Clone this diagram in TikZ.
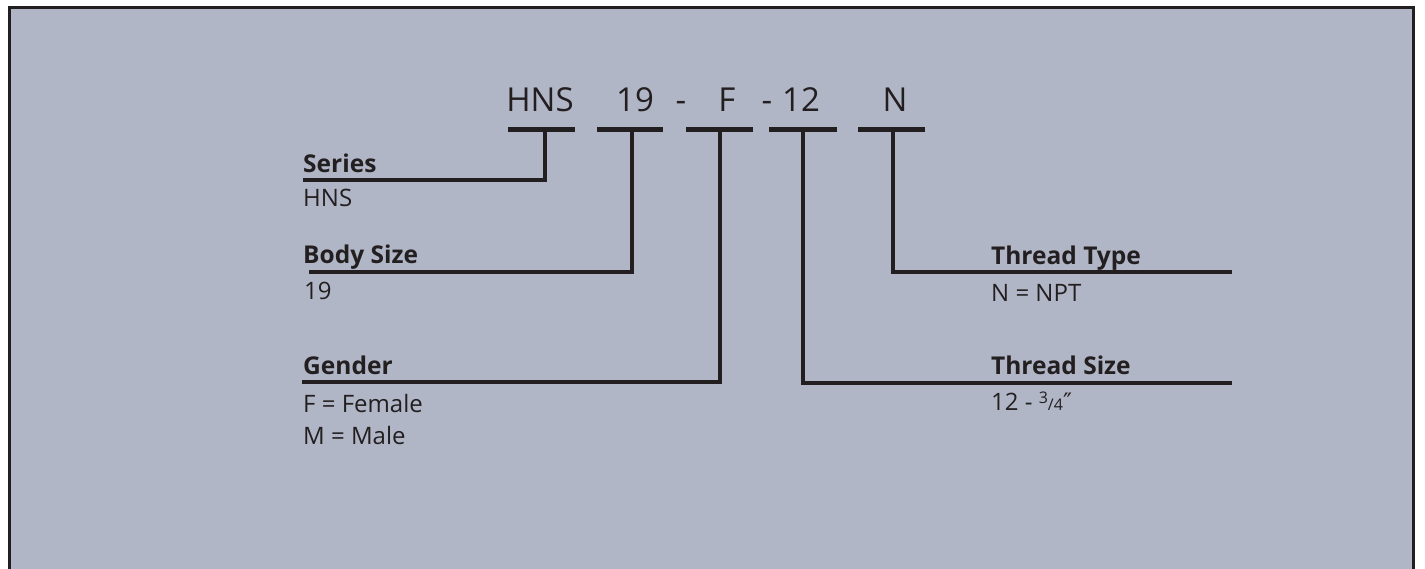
\documentclass[tikz,border=0pt]{standalone}
\usepackage{fontspec}
\setmainfont{Open Sans}
\newfontfamily\primefont{DejaVu Sans}
\definecolor{bg}{RGB}{176,182,198}
\definecolor{ink}{RGB}{35,31,32}
\begin{document}
\begin{tikzpicture}[x=1pt,y=-1pt,
  code/.style={anchor=base,inner sep=0pt,font=\fontsize{33}{33}\selectfont,text=ink},
  head/.style={anchor=base west,inner sep=0pt,font=\fontsize{24.5}{24.5}\selectfont\bfseries,text=ink},
  desc/.style={anchor=base west,inner sep=0pt,font=\fontsize{24}{24}\selectfont,text=ink},
  bar/.style={draw=ink,line width=5pt},
  conn/.style={draw=ink,line width=4.5pt,miter limit=10},
  frame/.style={draw=ink,line width=3pt}]
\useasboundingbox (0,0) rectangle (1425,569);
\fill[bg] (9,7.5) rectangle (1413,575);
\draw[frame] (9,575) -- (9,7.5) -- (1413,7.5) -- (1413,575);
% code letters
\node[code] (cHNS) at (540,112) {HNS};
\node[code] (c19) at (635,112) {19};
\node[code] (d1) at (681,112) {-};
\node[code] (cF) at (727,112) {F};
\node[code] (d2) at (767,112) {-};
\node[code] (c12) at (801,112) {12};
\node[code] (cN) at (895,112) {N};
% bars
\coordinate (b1) at (545,130); \coordinate (b2) at (632,130);
\coordinate (b3) at (720,130); \coordinate (b4) at (803,130);
\coordinate (b5) at (893,130);
\draw[bar] (508,130) -- (575,130);
\draw[bar] (597,130) -- (663,130);
\draw[bar] (686,130) -- (753,130);
\draw[bar] (769,130) -- (837,130);
\draw[bar] (858,130) -- (925,130);
% ends
\coordinate (e1) at (303,180);
\coordinate (e2) at (309,272);
\coordinate (e3) at (302,382);
\coordinate (e4) at (1232,383);
\coordinate (e5) at (1232,272);
\draw[conn] (b1) |- (e1);
\draw[conn] (b2) |- (e2);
\draw[conn] (b3) |- (e3);
\draw[conn] (b4) |- (e4);
\draw[conn] (b5) |- (e5);
% labels
\node[head] (hS) at (303,173) {Series};
\node[desc] (dS) at (303,207) {HNS};
\node[head] (hB) at (303,264) {Body Size};
\node[desc] (dB) at (304,300) {19};
\node[head] (hG) at (303,374) {Gender};
\node[desc] (dG1) at (303,412) {F = Female};
\node[desc] (dG2) at (303,444) {M = Male};
\node[head] (hT) at (991,265) {Thread Type};
\node[desc] (dT) at (991,302) {N = NPT};
\node[head] (hZ) at (991,374) {Thread Size};
\node[desc] (dZ) at (991,410) {12 - {\fontsize{16}{16}\selectfont\raisebox{7pt}{3}/4}{\primefont ″}};
\end{tikzpicture}
\end{document}
